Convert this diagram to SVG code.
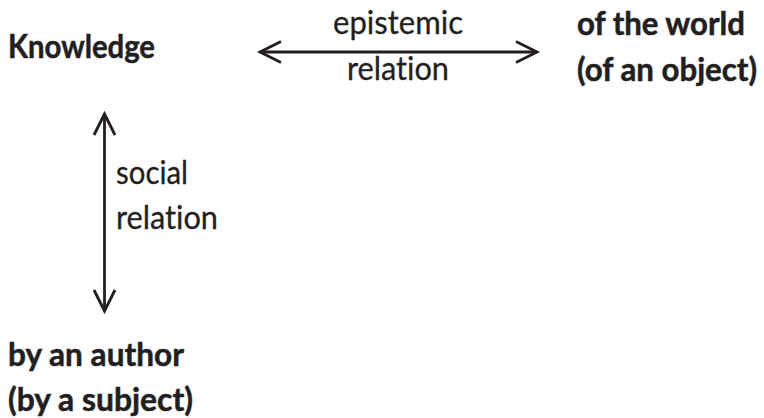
<svg xmlns="http://www.w3.org/2000/svg" width="764" height="418" viewBox="0 0 764 418">
  <style>
    .b { font-family: Lato, "Open Sans", "Liberation Sans", sans-serif; font-weight: bold; font-size: 32px; fill: #231f20; stroke: #231f20; stroke-width: 0.5; font-variant-ligatures: none; }
    .r { font-family: Lato, "Open Sans", "Liberation Sans", sans-serif; font-weight: normal; font-size: 32px; fill: #231f20; stroke: #231f20; stroke-width: 0.3; font-variant-ligatures: none; }
    .conn { stroke: #231f20; stroke-width: 2.8; fill: none; }
  </style>
  <defs>
    <marker id="chev" viewBox="-26 -14 30 28" markerWidth="30" markerHeight="28" refX="0" refY="0" markerUnits="userSpaceOnUse" orient="auto-start-reverse">
      <path d="M -21 -10.5 L 0 0 L -21 10.5" fill="none" stroke="#231f20" stroke-width="2.8" stroke-linejoin="miter"/>
    </marker>
  </defs>
  <rect width="764" height="418" fill="#ffffff"/>
  <g id="connectors">
    <line id="epistemic-arrow" class="conn" x1="260" y1="52" x2="537" y2="52" marker-start="url(#chev)" marker-end="url(#chev)"/>
    <line id="social-arrow" class="conn" x1="104.5" y1="114" x2="104.5" y2="311" marker-start="url(#chev)" marker-end="url(#chev)"/>
  </g>
  <g id="labels">
    <text class="r" x="333" y="34" textLength="130" lengthAdjust="spacingAndGlyphs">epistemic</text>
    <text class="r" x="347" y="80" textLength="102" lengthAdjust="spacingAndGlyphs">relation</text>
    <text class="r" x="116" y="184" textLength="72" lengthAdjust="spacingAndGlyphs">social</text>
    <text class="r" x="116" y="229" textLength="102" lengthAdjust="spacingAndGlyphs">relation</text>
  </g>
  <g id="node-knowledge">
    <text class="b" x="8" y="58" textLength="147" lengthAdjust="spacingAndGlyphs">Knowledge</text>
  </g>
  <g id="node-world">
    <text class="b" x="577" y="35" textLength="168" lengthAdjust="spacingAndGlyphs">of the world</text>
    <text class="b" x="577" y="81" textLength="180" lengthAdjust="spacingAndGlyphs">(of an object)</text>
  </g>
  <g id="node-author">
    <text class="b" x="8" y="366" textLength="176" lengthAdjust="spacingAndGlyphs">by an author</text>
    <text class="b" x="8" y="411" textLength="185" lengthAdjust="spacingAndGlyphs">(by a subject)</text>
  </g>
</svg>
